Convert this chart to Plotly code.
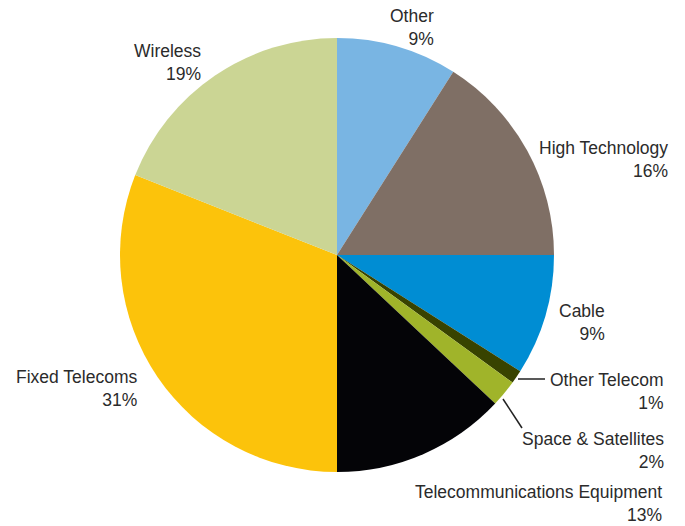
import plotly.graph_objects as go

# Sector shares (%), listed clockwise from 12 o'clock
sectors = ["Other", "High Technology", "Cable", "Other Telecom",
           "Space & Satellites", "Telecommunications Equipment",
           "Fixed Telecoms", "Wireless"]
shares = [9, 16, 9, 1, 2, 13, 31, 19]
colors = ["#79b5e3", "#7f6f65", "#008dd3", "#384300",
          "#a0b42a", "#040407", "#fcc30b", "#cbd594"]

# Label block placement in pixels: (right edge x, block centre y)
label_pos = {
    "Other": (436, 27),
    "High Technology": (670, 159),
    "Cable": (607, 322),
    "Other Telecom": (665, 391),
    "Space & Satellites": (666, 450),
    "Telecommunications Equipment": (664, 503),
    "Fixed Telecoms": (140, 388),
    "Wireless": (203, 63),
}
# Leader lines for the thin slices (pixels)
leaders = {
    "Other Telecom": ((518, 379), (545, 379)),
    "Space & Satellites": ((503, 399), (522, 428)),
}

W, H = 685, 526
cx, cy, r = 337, 255, 217

fig = go.Figure(go.Pie(
    labels=sectors,
    values=shares,
    marker=dict(colors=colors, line=dict(width=0)),
    sort=False,
    direction="clockwise",
    rotation=0,
    textinfo="none",
    hoverinfo="label+percent",
    showlegend=False,
    domain=dict(x=[(cx - r) / W, (cx + r) / W],
                y=[1 - (cy + r) / H, 1 - (cy - r) / H]),
))

for name, val in zip(sectors, shares):
    x, y = label_pos[name]
    fig.add_annotation(
        x=x / W, y=1 - y / H, xref="paper", yref="paper",
        xanchor="right", yanchor="middle", align="right",
        text=f"{name}<br>{val}%", showarrow=False,
        font=dict(family="Liberation Sans, Arial, sans-serif",
                  size=17.5, color="#2b2b2b"),
    )

for name, ((x0, y0), (x1, y1)) in leaders.items():
    fig.add_shape(type="line", xref="paper", yref="paper",
                  x0=x0 / W, y0=1 - y0 / H, x1=x1 / W, y1=1 - y1 / H,
                  line=dict(color="#222222", width=1.5))

fig.update_layout(
    width=W, height=H,
    margin=dict(l=0, r=0, t=0, b=0),
    paper_bgcolor="white",
    plot_bgcolor="white",
)

fig.write_html("out.html")
